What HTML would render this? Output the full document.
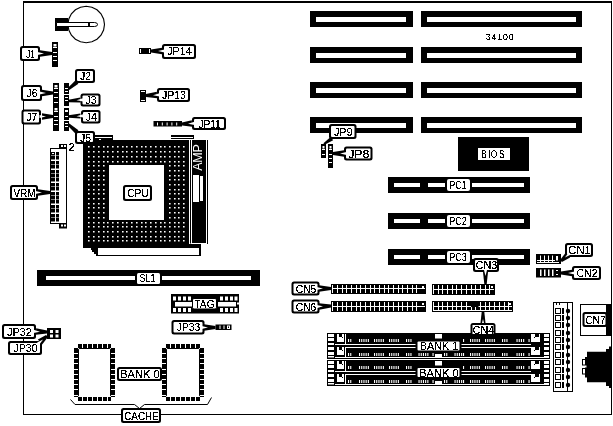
<!DOCTYPE html>
<html><head><meta charset="utf-8"><style>
html,body{margin:0;padding:0;background:#fff;width:613px;height:426px;overflow:hidden}
svg{display:block;filter:grayscale(1)}
text{font-family:"Liberation Sans",sans-serif;filter:url(#crisp)}
</style></head><body>
<svg width="613" height="426" viewBox="0 0 613 426">
<defs><filter id="crisp" x="-10%" y="-10%" width="120%" height="120%"><feComponentTransfer><feFuncA type="discrete" tableValues="0 0 1 1 1"/></feComponentTransfer></filter><filter id="crisp2" x="-10%" y="-10%" width="120%" height="120%"><feComponentTransfer><feFuncA type="discrete" tableValues="0 0 1 1 1"/></feComponentTransfer></filter></defs>
<rect x="0" y="0" width="613" height="426" fill="#fff"/>
<rect x="23" y="1" width="589" height="2" fill="#000" />
<rect x="23" y="1" width="1" height="414" fill="#000" />
<rect x="23" y="414" width="589" height="1" fill="#000" />
<rect x="611" y="1" width="1" height="414" fill="#000" />
<polygon points="104.5,24.5 103.6,30.1 101.0,35.2 97.0,39.2 91.9,41.8 86.2,42.7 80.5,41.8 75.4,39.2 71.4,35.2 68.8,30.1 67.9,24.5 68.8,18.9 71.4,13.8 75.4,9.8 80.5,7.2 86.2,6.3 91.9,7.2 97.0,9.8 101.0,13.8 103.6,18.9" fill="#fff" stroke="#000" stroke-width="1.15"/>
<rect x="55" y="18" width="13" height="13" fill="#000" />
<path d="M56.5,22.5 H94.5 Q97.5,22.5 97.5,24.5 Q97.5,26.5 94.5,26.5 H56.5 Z" fill="#fff" stroke="#000" stroke-width="1"/>
<rect x="88" y="22" width="2" height="5" fill="#000" />
<rect x="52" y="42" width="6" height="25" fill="#000" />
<rect x="53.5" y="44" width="3" height="2.5" fill="#fff" />
<rect x="53" y="47" width="4" height="1" fill="#fff" />
<rect x="53" y="52" width="4" height="1" fill="#fff" />
<rect x="53" y="56" width="4" height="1" fill="#fff" />
<rect x="53" y="60" width="4" height="1" fill="#fff" />
<rect x="20" y="46" width="20" height="15" rx="2.5" fill="#000"/>
<rect x="22" y="48" width="16" height="11" rx="1" fill="#fff"/>
<text x="30.5" y="57.64" font-size="11.5" fill="#000" text-anchor="middle" letter-spacing="0" textLength="8.6" lengthAdjust="spacingAndGlyphs" >J1</text>
<polygon points="40.0,56.8 52.0,54.9 52.0,52.1 40.0,50.2" fill="#000" stroke="none" stroke-width="1"/>
<polygon points="37.5,55.1 44.0,53.5 37.5,51.9" fill="#fff" stroke="none" stroke-width="1"/>
<rect x="53" y="83" width="6" height="23" fill="#000" />
<rect x="54.5" y="85" width="3" height="2.5" fill="#fff" />
<rect x="54" y="88" width="4" height="1" fill="#fff" />
<rect x="54" y="92" width="4" height="1" fill="#fff" />
<rect x="54" y="97" width="4" height="1" fill="#fff" />
<rect x="54" y="102" width="4" height="1" fill="#fff" />
<rect x="53" y="106" width="6" height="25" fill="#000" />
<rect x="54.5" y="108" width="3" height="2.5" fill="#fff" />
<rect x="54" y="111" width="4" height="1" fill="#fff" />
<rect x="54" y="116" width="4" height="1" fill="#fff" />
<rect x="54" y="120" width="4" height="1" fill="#fff" />
<rect x="54" y="124" width="4" height="1" fill="#fff" />
<rect x="21" y="85" width="21" height="16" rx="2.5" fill="#000"/>
<rect x="23" y="87" width="17" height="12" rx="1" fill="#fff"/>
<text x="32.0" y="97.14" font-size="11.5" fill="#000" text-anchor="middle" letter-spacing="0" textLength="11" lengthAdjust="spacingAndGlyphs" >J6</text>
<polygon points="42.0,96.3 53.0,94.4 53.0,91.6 42.0,89.7" fill="#000" stroke="none" stroke-width="1"/>
<polygon points="39.5,94.6 46.0,93.0 39.5,91.4" fill="#fff" stroke="none" stroke-width="1"/>
<rect x="21.5" y="109.5" width="19.5" height="15" rx="2.5" fill="#000"/>
<rect x="23.5" y="111.5" width="15.5" height="11" rx="1" fill="#fff"/>
<text x="31.75" y="121.14" font-size="11.5" fill="#000" text-anchor="middle" letter-spacing="0" textLength="11" lengthAdjust="spacingAndGlyphs" >J7</text>
<polygon points="42.0,119.8 53.0,117.9 53.0,115.1 42.0,113.2" fill="#000" stroke="none" stroke-width="1"/>
<polygon points="39.5,118.1 46.0,116.5 39.5,114.9" fill="#fff" stroke="none" stroke-width="1"/>
<rect x="64" y="83" width="5" height="11" fill="#000" />
<rect x="65" y="88" width="3" height="1" fill="#fff" />
<rect x="65" y="91" width="3" height="1" fill="#fff" />
<rect x="64" y="95" width="5" height="11" fill="#000" />
<rect x="65" y="97" width="3" height="1" fill="#fff" />
<rect x="65" y="100" width="3" height="1" fill="#fff" />
<rect x="64" y="108" width="5" height="12" fill="#000" />
<rect x="65" y="110" width="3" height="2" fill="#fff" />
<rect x="65" y="116" width="3" height="1" fill="#fff" />
<rect x="64" y="121" width="5" height="10" fill="#000" />
<rect x="65" y="123" width="3" height="1" fill="#fff" />
<rect x="65" y="126" width="3" height="1" fill="#fff" />
<rect x="75" y="69" width="20" height="14" rx="2.5" fill="#000"/>
<rect x="77" y="71" width="16" height="10" rx="1" fill="#fff"/>
<text x="85.5" y="80.14" font-size="11.5" fill="#000" text-anchor="middle" letter-spacing="0" textLength="11" lengthAdjust="spacingAndGlyphs" >J2</text>
<polygon points="75.60144404370558,80.30175348164249 67.73715129656668,88.07368371725954 69.26284870343332,89.92631628274046 78.39855595629442,83.69824651835751" fill="#000" stroke="none" stroke-width="1"/>
<rect x="80.5" y="93.5" width="20" height="13" rx="2.5" fill="#000"/>
<rect x="82.5" y="95.5" width="16" height="9" rx="1" fill="#fff"/>
<text x="91.0" y="104.14" font-size="11.5" fill="#000" text-anchor="middle" letter-spacing="0" textLength="11" lengthAdjust="spacingAndGlyphs" >J3</text>
<polygon points="80.29238630036565,97.5086356043878 68.40034542417551,99.80414509010615 68.59965457582449,102.19585490989385 80.70761369963435,102.4913643956122" fill="#000" stroke="none" stroke-width="1"/>
<polygon points="82.8584916278462,98.19791308717384 76.51381696702049,100.33218191941496 83.12423716337818,101.38685951355745" fill="#fff" stroke="none" stroke-width="1"/>
<rect x="81" y="110" width="19.5" height="13.5" rx="2.5" fill="#000"/>
<rect x="83" y="112" width="15.5" height="9.5" rx="1" fill="#fff"/>
<text x="91.25" y="120.89" font-size="11.5" fill="#000" text-anchor="middle" letter-spacing="0" textLength="11" lengthAdjust="spacingAndGlyphs" >J4</text>
<polygon points="80.39592363821954,113.50216731726913 68.45004334634538,115.30104031228917 68.54995665365462,117.69895968771083 80.60407636178046,118.49783268273087" fill="#000" stroke="none" stroke-width="1"/>
<polygon points="82.93122381119139,114.29731072127178 76.50346770763059,116.16652217884872 83.06444155427036,117.4945365551673" fill="#fff" stroke="none" stroke-width="1"/>
<rect x="139" y="48" width="12" height="6" fill="#000" />
<rect x="140" y="49" width="1" height="4" fill="#fff" />
<rect x="149" y="49" width="1" height="4" fill="#fff" />
<rect x="162" y="44" width="34" height="15" rx="2.5" fill="#000"/>
<rect x="164" y="46" width="30" height="11" rx="1" fill="#fff"/>
<text x="179.5" y="55.46" font-size="11" fill="#000" text-anchor="middle" letter-spacing="0" textLength="24.5" lengthAdjust="spacingAndGlyphs" >JP14</text>
<polygon points="162.0,47.7 151.0,49.6 151.0,52.4 162.0,54.3" fill="#000" stroke="none" stroke-width="1"/>
<polygon points="164.5,49.4 158.0,51.0 164.5,52.6" fill="#fff" stroke="none" stroke-width="1"/>
<rect x="140" y="90" width="6" height="12" fill="#000" />
<rect x="141" y="91" width="4" height="1" fill="#fff" />
<rect x="141" y="100" width="4" height="1" fill="#fff" />
<rect x="157" y="88" width="33" height="14" rx="2.5" fill="#000"/>
<rect x="159" y="90" width="29" height="10" rx="1" fill="#fff"/>
<text x="174.0" y="98.96" font-size="11" fill="#000" text-anchor="middle" letter-spacing="0" textLength="23.8" lengthAdjust="spacingAndGlyphs" >JP13</text>
<polygon points="156.85015471896847,91.70340381730601 145.9364292747139,94.10144404370558 146.0635707252861,96.89855595629442 157.14984528103153,98.29659618269399" fill="#000" stroke="none" stroke-width="1"/>
<polygon points="159.42476909305591,93.2881311833669 153.0041258391588,95.1816306436746 159.57007360799557,96.48483051203986" fill="#fff" stroke="none" stroke-width="1"/>
<rect x="153.5" y="121" width="28.5" height="5.5" fill="#000" />
<rect x="157.0" y="122.5" width="1" height="3" fill="#fff" />
<rect x="161.8" y="122.5" width="1" height="3" fill="#fff" />
<rect x="166.6" y="122.5" width="1" height="3" fill="#fff" />
<rect x="171.4" y="122.5" width="1" height="3" fill="#fff" />
<rect x="176.2" y="122.5" width="1" height="3" fill="#fff" />
<rect x="192" y="117" width="34" height="13" rx="2.5" fill="#000"/>
<rect x="194" y="119" width="30" height="9" rx="1" fill="#fff"/>
<text x="209.5" y="127.64" font-size="11.5" fill="#000" text-anchor="middle" letter-spacing="0" textLength="22.2" lengthAdjust="spacingAndGlyphs" >JP11</text>
<polygon points="191.83520586408517,120.20411728170312 181.93008733627855,122.60174672557102 182.06991266372145,125.39825327442898 192.16479413591483,126.79588271829688" fill="#000" stroke="none" stroke-width="1"/>
<polygon points="194.41698066008436,121.77715221543572 188.00499064448863,123.69975046777557 194.57678103430484,124.97315969984483" fill="#fff" stroke="none" stroke-width="1"/>
<rect x="50" y="148" width="17" height="76" fill="#000" />
<rect x="51" y="149" width="15" height="74" fill="#fff" />
<path d="M51,152h4v3.4h-4z M56,152h3v3.4h-3z M51,156h4v3.4h-4z M56,156h3v3.4h-3z M51,161h4v3.4h-4z M56,161h3v3.4h-3z M51,165h4v3.4h-4z M56,165h3v3.4h-3z M51,170h4v3.4h-4z M56,170h3v3.4h-3z M51,174h4v3.4h-4z M56,174h3v3.4h-3z M51,178h4v3.4h-4z M56,178h3v3.4h-3z M51,183h4v3.4h-4z M56,183h3v3.4h-3z M51,187h4v3.4h-4z M56,187h3v3.4h-3z M51,192h4v3.4h-4z M56,192h3v3.4h-3z M51,196h4v3.4h-4z M56,196h3v3.4h-3z M51,200h4v3.4h-4z M56,200h3v3.4h-3z M51,205h4v3.4h-4z M56,205h3v3.4h-3z M51,209h4v3.4h-4z M56,209h3v3.4h-3z M51,214h4v3.4h-4z M56,214h3v3.4h-3z M51,218h4v3.4h-4z M56,218h3v3.4h-3z" fill="#000"/>
<rect x="52" y="153" width="2" height="1" fill="#fff" />
<rect x="59" y="144" width="8" height="5" fill="#000" />
<rect x="61" y="145" width="2" height="2" fill="#fff" />
<rect x="64" y="145" width="2" height="2" fill="#fff" />
<text x="68.5" y="151" font-size="11" fill="#000" text-anchor="start" letter-spacing="0" >2</text>
<rect x="59" y="223" width="8" height="5.5" fill="#000" />
<rect x="61" y="224.5" width="2" height="2" fill="#fff" />
<rect x="64" y="224.5" width="2" height="2" fill="#fff" />
<rect x="10" y="185" width="28" height="15" rx="2.5" fill="#000"/>
<rect x="12" y="187" width="24" height="11" rx="1" fill="#fff"/>
<text x="24.5" y="196.64" font-size="11.5" fill="#000" text-anchor="middle" letter-spacing="0" textLength="21.8" lengthAdjust="spacingAndGlyphs" >VRM</text>
<polygon points="38.0,195.8 50.0,193.9 50.0,191.1 38.0,189.2" fill="#000" stroke="none" stroke-width="1"/>
<polygon points="35.5,194.1 42.0,192.5 35.5,190.9" fill="#fff" stroke="none" stroke-width="1"/>
<path d="M83,140 H189 V248 H83 Z M109,165 V220 H164 V165 Z" fill="#000" fill-rule="evenodd"/>
<rect x="95" y="135" width="18" height="5" fill="#000" />
<rect x="95" y="137" width="17" height="1" fill="#fff" />
<rect x="99" y="139" width="2" height="1" fill="#fff" />
<rect x="171" y="135" width="23" height="4" fill="#000" />
<rect x="171" y="137" width="22" height="1" fill="#fff" />
<path d="M88,146h1.6v1.5h-1.6zM88,151h1.6v1.5h-1.6zM88,156h1.6v1.5h-1.6zM88,161h1.6v1.5h-1.6zM88,165h1.6v1.5h-1.6zM88,170h1.6v1.5h-1.6zM88,175h1.6v1.5h-1.6zM88,179h1.6v1.5h-1.6zM88,184h1.6v1.5h-1.6zM88,189h1.6v1.5h-1.6zM88,193h1.6v1.5h-1.6zM88,198h1.6v1.5h-1.6zM88,203h1.6v1.5h-1.6zM88,207h1.6v1.5h-1.6zM88,212h1.6v1.5h-1.6zM88,217h1.6v1.5h-1.6zM88,222h1.6v1.5h-1.6zM88,226h1.6v1.5h-1.6zM88,231h1.6v1.5h-1.6zM88,236h1.6v1.5h-1.6zM88,240h1.6v1.5h-1.6zM93,146h1.6v1.5h-1.6zM93,151h1.6v1.5h-1.6zM93,156h1.6v1.5h-1.6zM93,161h1.6v1.5h-1.6zM93,165h1.6v1.5h-1.6zM93,170h1.6v1.5h-1.6zM93,175h1.6v1.5h-1.6zM93,179h1.6v1.5h-1.6zM93,184h1.6v1.5h-1.6zM93,189h1.6v1.5h-1.6zM93,193h1.6v1.5h-1.6zM93,198h1.6v1.5h-1.6zM93,203h1.6v1.5h-1.6zM93,207h1.6v1.5h-1.6zM93,212h1.6v1.5h-1.6zM93,217h1.6v1.5h-1.6zM93,222h1.6v1.5h-1.6zM93,226h1.6v1.5h-1.6zM93,231h1.6v1.5h-1.6zM93,236h1.6v1.5h-1.6zM93,240h1.6v1.5h-1.6zM98,146h1.6v1.5h-1.6zM98,151h1.6v1.5h-1.6zM98,156h1.6v1.5h-1.6zM98,161h1.6v1.5h-1.6zM98,165h1.6v1.5h-1.6zM98,170h1.6v1.5h-1.6zM98,175h1.6v1.5h-1.6zM98,179h1.6v1.5h-1.6zM98,184h1.6v1.5h-1.6zM98,189h1.6v1.5h-1.6zM98,193h1.6v1.5h-1.6zM98,198h1.6v1.5h-1.6zM98,203h1.6v1.5h-1.6zM98,207h1.6v1.5h-1.6zM98,212h1.6v1.5h-1.6zM98,217h1.6v1.5h-1.6zM98,222h1.6v1.5h-1.6zM98,226h1.6v1.5h-1.6zM98,231h1.6v1.5h-1.6zM98,236h1.6v1.5h-1.6zM98,240h1.6v1.5h-1.6zM103,146h1.6v1.5h-1.6zM103,151h1.6v1.5h-1.6zM103,156h1.6v1.5h-1.6zM103,161h1.6v1.5h-1.6zM103,165h1.6v1.5h-1.6zM103,170h1.6v1.5h-1.6zM103,175h1.6v1.5h-1.6zM103,179h1.6v1.5h-1.6zM103,184h1.6v1.5h-1.6zM103,189h1.6v1.5h-1.6zM103,193h1.6v1.5h-1.6zM103,198h1.6v1.5h-1.6zM103,203h1.6v1.5h-1.6zM103,207h1.6v1.5h-1.6zM103,212h1.6v1.5h-1.6zM103,217h1.6v1.5h-1.6zM103,222h1.6v1.5h-1.6zM103,226h1.6v1.5h-1.6zM103,231h1.6v1.5h-1.6zM103,236h1.6v1.5h-1.6zM103,240h1.6v1.5h-1.6zM107,146h1.6v1.5h-1.6zM107,151h1.6v1.5h-1.6zM107,156h1.6v1.5h-1.6zM107,161h1.6v1.5h-1.6zM107,222h1.6v1.5h-1.6zM107,226h1.6v1.5h-1.6zM107,231h1.6v1.5h-1.6zM107,236h1.6v1.5h-1.6zM107,240h1.6v1.5h-1.6zM112,146h1.6v1.5h-1.6zM112,151h1.6v1.5h-1.6zM112,156h1.6v1.5h-1.6zM112,161h1.6v1.5h-1.6zM112,222h1.6v1.5h-1.6zM112,226h1.6v1.5h-1.6zM112,231h1.6v1.5h-1.6zM112,236h1.6v1.5h-1.6zM112,240h1.6v1.5h-1.6zM117,146h1.6v1.5h-1.6zM117,151h1.6v1.5h-1.6zM117,156h1.6v1.5h-1.6zM117,161h1.6v1.5h-1.6zM117,222h1.6v1.5h-1.6zM117,226h1.6v1.5h-1.6zM117,231h1.6v1.5h-1.6zM117,236h1.6v1.5h-1.6zM117,240h1.6v1.5h-1.6zM122,146h1.6v1.5h-1.6zM122,151h1.6v1.5h-1.6zM122,156h1.6v1.5h-1.6zM122,161h1.6v1.5h-1.6zM122,222h1.6v1.5h-1.6zM122,226h1.6v1.5h-1.6zM122,231h1.6v1.5h-1.6zM122,236h1.6v1.5h-1.6zM122,240h1.6v1.5h-1.6zM126,146h1.6v1.5h-1.6zM126,151h1.6v1.5h-1.6zM126,156h1.6v1.5h-1.6zM126,161h1.6v1.5h-1.6zM126,222h1.6v1.5h-1.6zM126,226h1.6v1.5h-1.6zM126,231h1.6v1.5h-1.6zM126,236h1.6v1.5h-1.6zM126,240h1.6v1.5h-1.6zM131,146h1.6v1.5h-1.6zM131,151h1.6v1.5h-1.6zM131,156h1.6v1.5h-1.6zM131,161h1.6v1.5h-1.6zM131,222h1.6v1.5h-1.6zM131,226h1.6v1.5h-1.6zM131,231h1.6v1.5h-1.6zM131,236h1.6v1.5h-1.6zM131,240h1.6v1.5h-1.6zM136,146h1.6v1.5h-1.6zM136,151h1.6v1.5h-1.6zM136,156h1.6v1.5h-1.6zM136,161h1.6v1.5h-1.6zM136,222h1.6v1.5h-1.6zM136,226h1.6v1.5h-1.6zM136,231h1.6v1.5h-1.6zM136,236h1.6v1.5h-1.6zM136,240h1.6v1.5h-1.6zM141,146h1.6v1.5h-1.6zM141,151h1.6v1.5h-1.6zM141,156h1.6v1.5h-1.6zM141,161h1.6v1.5h-1.6zM141,222h1.6v1.5h-1.6zM141,226h1.6v1.5h-1.6zM141,231h1.6v1.5h-1.6zM141,236h1.6v1.5h-1.6zM141,240h1.6v1.5h-1.6zM145,146h1.6v1.5h-1.6zM145,151h1.6v1.5h-1.6zM145,156h1.6v1.5h-1.6zM145,161h1.6v1.5h-1.6zM145,222h1.6v1.5h-1.6zM145,226h1.6v1.5h-1.6zM145,231h1.6v1.5h-1.6zM145,236h1.6v1.5h-1.6zM145,240h1.6v1.5h-1.6zM150,146h1.6v1.5h-1.6zM150,151h1.6v1.5h-1.6zM150,156h1.6v1.5h-1.6zM150,161h1.6v1.5h-1.6zM150,222h1.6v1.5h-1.6zM150,226h1.6v1.5h-1.6zM150,231h1.6v1.5h-1.6zM150,236h1.6v1.5h-1.6zM150,240h1.6v1.5h-1.6zM155,146h1.6v1.5h-1.6zM155,151h1.6v1.5h-1.6zM155,156h1.6v1.5h-1.6zM155,161h1.6v1.5h-1.6zM155,222h1.6v1.5h-1.6zM155,226h1.6v1.5h-1.6zM155,231h1.6v1.5h-1.6zM155,236h1.6v1.5h-1.6zM155,240h1.6v1.5h-1.6zM160,146h1.6v1.5h-1.6zM160,151h1.6v1.5h-1.6zM160,156h1.6v1.5h-1.6zM160,161h1.6v1.5h-1.6zM160,222h1.6v1.5h-1.6zM160,226h1.6v1.5h-1.6zM160,231h1.6v1.5h-1.6zM160,236h1.6v1.5h-1.6zM160,240h1.6v1.5h-1.6zM164,146h1.6v1.5h-1.6zM164,151h1.6v1.5h-1.6zM164,156h1.6v1.5h-1.6zM164,161h1.6v1.5h-1.6zM164,222h1.6v1.5h-1.6zM164,226h1.6v1.5h-1.6zM164,231h1.6v1.5h-1.6zM164,236h1.6v1.5h-1.6zM164,240h1.6v1.5h-1.6zM169,146h1.6v1.5h-1.6zM169,151h1.6v1.5h-1.6zM169,156h1.6v1.5h-1.6zM169,161h1.6v1.5h-1.6zM169,165h1.6v1.5h-1.6zM169,170h1.6v1.5h-1.6zM169,175h1.6v1.5h-1.6zM169,179h1.6v1.5h-1.6zM169,184h1.6v1.5h-1.6zM169,189h1.6v1.5h-1.6zM169,193h1.6v1.5h-1.6zM169,198h1.6v1.5h-1.6zM169,203h1.6v1.5h-1.6zM169,207h1.6v1.5h-1.6zM169,212h1.6v1.5h-1.6zM169,217h1.6v1.5h-1.6zM169,222h1.6v1.5h-1.6zM169,226h1.6v1.5h-1.6zM169,231h1.6v1.5h-1.6zM169,236h1.6v1.5h-1.6zM169,240h1.6v1.5h-1.6zM174,146h1.6v1.5h-1.6zM174,151h1.6v1.5h-1.6zM174,156h1.6v1.5h-1.6zM174,161h1.6v1.5h-1.6zM174,165h1.6v1.5h-1.6zM174,170h1.6v1.5h-1.6zM174,175h1.6v1.5h-1.6zM174,179h1.6v1.5h-1.6zM174,184h1.6v1.5h-1.6zM174,189h1.6v1.5h-1.6zM174,193h1.6v1.5h-1.6zM174,198h1.6v1.5h-1.6zM174,203h1.6v1.5h-1.6zM174,207h1.6v1.5h-1.6zM174,212h1.6v1.5h-1.6zM174,217h1.6v1.5h-1.6zM174,222h1.6v1.5h-1.6zM174,226h1.6v1.5h-1.6zM174,231h1.6v1.5h-1.6zM174,236h1.6v1.5h-1.6zM174,240h1.6v1.5h-1.6zM178,146h1.6v1.5h-1.6zM178,151h1.6v1.5h-1.6zM178,156h1.6v1.5h-1.6zM178,161h1.6v1.5h-1.6zM178,165h1.6v1.5h-1.6zM178,170h1.6v1.5h-1.6zM178,175h1.6v1.5h-1.6zM178,179h1.6v1.5h-1.6zM178,184h1.6v1.5h-1.6zM178,189h1.6v1.5h-1.6zM178,193h1.6v1.5h-1.6zM178,198h1.6v1.5h-1.6zM178,203h1.6v1.5h-1.6zM178,207h1.6v1.5h-1.6zM178,212h1.6v1.5h-1.6zM178,217h1.6v1.5h-1.6zM178,222h1.6v1.5h-1.6zM178,226h1.6v1.5h-1.6zM178,231h1.6v1.5h-1.6zM178,236h1.6v1.5h-1.6zM178,240h1.6v1.5h-1.6zM183,146h1.6v1.5h-1.6zM183,151h1.6v1.5h-1.6zM183,156h1.6v1.5h-1.6zM183,161h1.6v1.5h-1.6zM183,165h1.6v1.5h-1.6zM183,170h1.6v1.5h-1.6zM183,175h1.6v1.5h-1.6zM183,179h1.6v1.5h-1.6zM183,184h1.6v1.5h-1.6zM183,189h1.6v1.5h-1.6zM183,193h1.6v1.5h-1.6zM183,198h1.6v1.5h-1.6zM183,203h1.6v1.5h-1.6zM183,207h1.6v1.5h-1.6zM183,212h1.6v1.5h-1.6zM183,217h1.6v1.5h-1.6zM183,222h1.6v1.5h-1.6zM183,226h1.6v1.5h-1.6zM183,231h1.6v1.5h-1.6zM183,236h1.6v1.5h-1.6zM183,240h1.6v1.5h-1.6z" fill="#fff"/>
<rect x="190" y="140" width="1" height="103.5" fill="#000" />
<rect x="192" y="140" width="14" height="103" fill="#000" />
<rect x="207" y="140" width="1" height="104" fill="#000" />
<text x="0" y="0" font-size="12.5" fill="#fff" text-anchor="middle" textLength="26.5" lengthAdjust="spacing" style="filter:none" transform="translate(202.3,157.5) rotate(-90)">AMP</text>
<rect x="193" y="175" width="6" height="27" fill="#fff" />
<rect x="200" y="176" width="3" height="25" fill="#fff" />
<polygon points="91,247 201,247 201,256 96,256 96,254 94,254 94,252 92,252 92,250 91,250" fill="#000" stroke="none" stroke-width="1"/>
<rect x="189" y="244" width="12" height="4" fill="#000" />
<rect x="98" y="248" width="101" height="7" fill="#fff" />
<rect x="123" y="185" width="29" height="16" rx="2.5" fill="#000"/>
<rect x="125" y="187" width="25" height="12" rx="1" fill="#fff"/>
<text x="138.0" y="197.14" font-size="11.5" fill="#000" text-anchor="middle" letter-spacing="0" textLength="21.7" lengthAdjust="spacingAndGlyphs" >CPU</text>
<rect x="75" y="131" width="20" height="13" rx="2.5" fill="#000"/>
<rect x="77" y="133" width="16" height="9" rx="1" fill="#fff"/>
<text x="85.5" y="141.64" font-size="11.5" fill="#000" text-anchor="middle" letter-spacing="0" textLength="11" lengthAdjust="spacingAndGlyphs" >J5</text>
<polygon points="78.45556760159106,130.3503567181968 69.29394596450422,123.6001945735619 67.70605403549578,125.3998054264381 75.54443239840894,133.6496432818032" fill="#000" stroke="none" stroke-width="1"/>
<rect x="37" y="270" width="223" height="16" fill="#000" />
<rect x="46" y="276" width="89" height="4" fill="#fff" />
<rect x="162" y="276" width="89" height="4" fill="#fff" />
<rect x="137" y="273" width="23" height="11" rx="1.5" fill="#fff"/>
<text x="147.5" y="282" font-size="11.5" fill="#000" text-anchor="middle" letter-spacing="0" textLength="16" lengthAdjust="spacingAndGlyphs" >SL1</text>
<rect x="171" y="294" width="68" height="19.5" fill="#000" />
<rect x="173" y="296.5" width="3" height="4" fill="#fff" />
<rect x="173" y="308" width="3" height="4" fill="#fff" />
<rect x="178" y="296.5" width="3" height="4" fill="#fff" />
<rect x="178" y="308" width="3" height="4" fill="#fff" />
<rect x="183" y="296.5" width="3" height="4" fill="#fff" />
<rect x="183" y="308" width="3" height="4" fill="#fff" />
<rect x="188" y="296.5" width="3" height="4" fill="#fff" />
<rect x="188" y="308" width="3" height="4" fill="#fff" />
<rect x="220" y="296.5" width="3" height="4" fill="#fff" />
<rect x="220" y="308" width="3" height="4" fill="#fff" />
<rect x="225" y="296.5" width="3" height="4" fill="#fff" />
<rect x="225" y="308" width="3" height="4" fill="#fff" />
<rect x="230" y="296.5" width="3" height="4" fill="#fff" />
<rect x="230" y="308" width="3" height="4" fill="#fff" />
<rect x="234.5" y="296.5" width="3" height="4" fill="#fff" />
<rect x="234.5" y="308" width="3" height="4" fill="#fff" />
<rect x="175" y="302" width="17" height="4.5" fill="#fff" />
<rect x="218" y="302" width="18" height="4.5" fill="#fff" />
<rect x="237" y="302.5" width="2" height="2" fill="#fff" />
<rect x="192.5" y="298.5" width="24" height="10.5" rx="1.5" fill="#fff" stroke="#000" stroke-width="1"/>
<text x="204.5" y="308.2" font-size="11.5" fill="#000" text-anchor="middle" letter-spacing="0" textLength="20.2" lengthAdjust="spacingAndGlyphs" >TAG</text>
<rect x="171.5" y="320" width="33" height="14.5" rx="2.5" fill="#000"/>
<rect x="173.5" y="322" width="29" height="10.5" rx="1" fill="#fff"/>
<text x="188.5" y="331.39" font-size="11.5" fill="#000" text-anchor="middle" letter-spacing="0" textLength="23.5" lengthAdjust="spacingAndGlyphs" >JP33</text>
<rect x="215.5" y="324.5" width="16" height="5.5" fill="#000" />
<rect x="219.5" y="325.5" width="1" height="3.5" fill="#fff" />
<rect x="223.5" y="325.5" width="1" height="3.5" fill="#fff" />
<rect x="227" y="325.5" width="3" height="3.5" fill="#fff" />
<rect x="228" y="326.5" width="1" height="1.5" fill="#000" />
<polygon points="204.0,330.8 215.5,328.9 215.5,326.1 204.0,324.2" fill="#000" stroke="none" stroke-width="1"/>
<polygon points="201.5,329.1 208.0,327.5 201.5,325.9" fill="#fff" stroke="none" stroke-width="1"/>
<rect x="47" y="328" width="14" height="11" fill="#000" />
<rect x="50" y="330" width="3" height="3" fill="#fff" />
<rect x="55.5" y="330" width="3" height="3" fill="#fff" />
<rect x="50" y="334.5" width="3" height="3" fill="#fff" />
<rect x="55.5" y="334.5" width="3" height="3" fill="#fff" />
<rect x="2" y="324" width="34" height="15" rx="2.5" fill="#000"/>
<rect x="4" y="326" width="30" height="11" rx="1" fill="#fff"/>
<text x="19.5" y="335.64" font-size="11.5" fill="#000" text-anchor="middle" letter-spacing="0" textLength="24.8" lengthAdjust="spacingAndGlyphs" >JP32</text>
<polygon points="35.850154718968454,334.796596182694 46.93642927471389,333.39855595629444 47.06357072528611,330.60144404370556 36.149845281031546,328.203403817306" fill="#000" stroke="none" stroke-width="1"/>
<polygon points="33.42992639200441,332.9848305120398 39.9958741608412,331.6816306436746 33.57523090694409,329.7881311833669" fill="#fff" stroke="none" stroke-width="1"/>
<rect x="8" y="341" width="34" height="14" rx="2.5" fill="#000"/>
<rect x="10" y="343" width="30" height="10" rx="1" fill="#fff"/>
<text x="25.5" y="352.14" font-size="11.5" fill="#000" text-anchor="middle" letter-spacing="0" textLength="24.2" lengthAdjust="spacingAndGlyphs" >JP30</text>
<polygon points="42.147611532404696,344.5055467878055 47.911107922838355,337.0629592433114 46.088892077161645,334.9370407566886 37.852388467595304,339.4944532121945" fill="#000" stroke="none" stroke-width="1"/>
<polygon points="39.14312469161631,344.8417889974244 43.037026409461184,339.3968345061761 37.0605922965572,342.41216786985547" fill="#fff" stroke="none" stroke-width="1"/>
<rect x="74" y="344" width="41" height="57" fill="#000" />
<rect x="79" y="349" width="31" height="48" fill="#fff" />
<path d="M82,344h1v4h-1z M82,397h1v4h-1z M87,344h1v4h-1z M87,397h1v4h-1z M92,344h1v4h-1z M92,397h1v4h-1z M97,344h1v4h-1z M97,397h1v4h-1z M102,344h1v4h-1z M102,397h1v4h-1z M107,344h1v4h-1z M107,397h1v4h-1z M74,353h4v1h-4z M111,353h4v1h-4z M74,358h4v1h-4z M111,358h4v1h-4z M74,363h4v1h-4z M111,363h4v1h-4z M74,369h4v1h-4z M111,369h4v1h-4z M74,374h4v1h-4z M111,374h4v1h-4z M74,379h4v1h-4z M111,379h4v1h-4z M74,384h4v1h-4z M111,384h4v1h-4z M74,389h4v1h-4z M111,389h4v1h-4z M74,395h4v1h-4z M111,395h4v1h-4z" fill="#fff"/>
<rect x="74" y="344" width="4" height="4" fill="#fff" />
<rect x="111" y="344" width="4" height="4" fill="#fff" />
<rect x="74" y="397" width="4" height="4" fill="#fff" />
<rect x="111" y="397" width="4" height="4" fill="#fff" />
<polygon points="78,348 79.5,348 78,349.5" fill="#fff" stroke="none" stroke-width="1"/>
<polygon points="111,348 109.5,348 111,349.5" fill="#fff" stroke="none" stroke-width="1"/>
<polygon points="78,397 79.5,397 78,395.5" fill="#fff" stroke="none" stroke-width="1"/>
<polygon points="111,397 109.5,397 111,395.5" fill="#fff" stroke="none" stroke-width="1"/>
<rect x="162" y="344" width="42" height="57" fill="#000" />
<rect x="167" y="349" width="32" height="48" fill="#fff" />
<path d="M170,344h1v4h-1z M170,397h1v4h-1z M175,344h1v4h-1z M175,397h1v4h-1z M180,344h1v4h-1z M180,397h1v4h-1z M185,344h1v4h-1z M185,397h1v4h-1z M190,344h1v4h-1z M190,397h1v4h-1z M195,344h1v4h-1z M195,397h1v4h-1z M162,353h4v1h-4z M200,353h4v1h-4z M162,358h4v1h-4z M200,358h4v1h-4z M162,363h4v1h-4z M200,363h4v1h-4z M162,369h4v1h-4z M200,369h4v1h-4z M162,374h4v1h-4z M200,374h4v1h-4z M162,379h4v1h-4z M200,379h4v1h-4z M162,384h4v1h-4z M200,384h4v1h-4z M162,389h4v1h-4z M200,389h4v1h-4z M162,395h4v1h-4z M200,395h4v1h-4z" fill="#fff"/>
<rect x="162" y="344" width="4" height="4" fill="#fff" />
<rect x="200" y="344" width="4" height="4" fill="#fff" />
<rect x="162" y="397" width="4" height="4" fill="#fff" />
<rect x="200" y="397" width="4" height="4" fill="#fff" />
<polygon points="166,348 167.5,348 166,349.5" fill="#fff" stroke="none" stroke-width="1"/>
<polygon points="200,348 198.5,348 200,349.5" fill="#fff" stroke="none" stroke-width="1"/>
<polygon points="166,397 167.5,397 166,395.5" fill="#fff" stroke="none" stroke-width="1"/>
<polygon points="200,397 198.5,397 200,395.5" fill="#fff" stroke="none" stroke-width="1"/>
<rect x="117" y="367" width="45" height="14" rx="2.5" fill="#000"/>
<rect x="119" y="369" width="41" height="10" rx="1" fill="#fff"/>
<text x="140.0" y="378.14" font-size="11.5" fill="#000" text-anchor="middle" letter-spacing="0" textLength="39.7" lengthAdjust="spacingAndGlyphs" >BANK 0</text>
<polyline points="70.5,399.5 75,404.5 134.5,404.5 139.5,408.5 144.5,404.5 207.5,404.5 211.5,397.5" fill="none" stroke="#000" stroke-width="1"/>
<rect x="121" y="408" width="40" height="15" rx="2.5" fill="#000"/>
<rect x="123" y="410" width="36" height="11" rx="1" fill="#fff"/>
<text x="141.5" y="419.64" font-size="11.5" fill="#000" text-anchor="middle" letter-spacing="0" textLength="34.7" lengthAdjust="spacingAndGlyphs" >CACHE</text>
<rect x="310" y="11" width="103" height="16" fill="#000" />
<rect x="316" y="17" width="90" height="5" fill="#fff" />
<rect x="421" y="11" width="161" height="16" fill="#000" />
<rect x="427" y="17" width="149" height="5" fill="#fff" />
<rect x="310" y="47" width="103" height="16" fill="#000" />
<rect x="316" y="53" width="90" height="5" fill="#fff" />
<rect x="421" y="47" width="161" height="16" fill="#000" />
<rect x="427" y="53" width="149" height="5" fill="#fff" />
<rect x="310" y="82" width="103" height="16" fill="#000" />
<rect x="316" y="88" width="90" height="5" fill="#fff" />
<rect x="421" y="82" width="161" height="16" fill="#000" />
<rect x="427" y="88" width="149" height="5" fill="#fff" />
<rect x="310" y="117" width="103" height="16" fill="#000" />
<rect x="316" y="123" width="90" height="5" fill="#fff" />
<rect x="421" y="117" width="161" height="16" fill="#000" />
<rect x="427" y="123" width="149" height="5" fill="#fff" />
<text x="485.5" y="39.8" font-size="9.5" fill="#000" text-anchor="start" letter-spacing="0.45" >34100</text>
<rect x="321" y="144" width="5" height="14" fill="#000" />
<rect x="322.5" y="146" width="2" height="2.5" fill="#fff" />
<rect x="322" y="149" width="3" height="1" fill="#fff" />
<rect x="322" y="154" width="3" height="1" fill="#fff" />
<rect x="328" y="144" width="5" height="24" fill="#000" />
<rect x="329.5" y="146" width="2" height="2.5" fill="#fff" />
<rect x="329" y="149" width="3" height="1" fill="#fff" />
<rect x="329" y="154" width="3" height="1" fill="#fff" />
<rect x="329" y="158" width="3" height="1" fill="#fff" />
<rect x="329" y="162" width="3" height="1" fill="#fff" />
<rect x="329" y="124" width="27.5" height="15" rx="2.5" fill="#000"/>
<rect x="331" y="126" width="23.5" height="11" rx="1" fill="#fff"/>
<text x="343.25" y="135.64" font-size="11.5" fill="#000" text-anchor="middle" letter-spacing="0" textLength="18.7" lengthAdjust="spacingAndGlyphs" >JP9</text>
<polygon points="330.86694235422584,136.85191615160127 323.43347117711295,143.17595807580062 324.56652882288705,144.82404192419938 333.13305764577416,140.14808384839873" fill="#000" stroke="none" stroke-width="1"/>
<rect x="344" y="146.5" width="28.5" height="14" rx="2.5" fill="#000"/>
<rect x="346" y="148.5" width="24.5" height="10" rx="1" fill="#fff"/>
<text x="358.75" y="157.64" font-size="11.5" fill="#000" text-anchor="middle" letter-spacing="0" textLength="21.2" lengthAdjust="spacingAndGlyphs" >JP8</text>
<polygon points="344.0,150.2 333.0,152.1 333.0,154.9 344.0,156.8" fill="#000" stroke="none" stroke-width="1"/>
<polygon points="346.5,151.9 340.0,153.5 346.5,155.1" fill="#fff" stroke="none" stroke-width="1"/>
<rect x="458" y="137" width="71" height="34" fill="#000" />
<rect x="478" y="148" width="32" height="12" fill="#fff" />
<text x="0" y="0" font-size="11.5" fill="#000" transform="translate(481.5,157.8) scale(0.68,1)">B</text>
<text x="0" y="0" font-size="11.5" fill="#000" transform="translate(488.5,157.8) scale(0.68,1)">I</text>
<text x="0" y="0" font-size="11.5" fill="#000" transform="translate(491,157.8) scale(0.68,1)">O</text>
<text x="0" y="0" font-size="11.5" fill="#000" transform="translate(499.3,157.8) scale(0.68,1)">S</text>
<rect x="388" y="177" width="142" height="16" fill="#000" />
<rect x="394" y="183" width="26" height="4" fill="#fff" />
<rect x="428" y="183" width="17" height="4" fill="#fff" />
<rect x="472" y="183" width="52" height="4" fill="#fff" />
<rect x="447" y="179" width="23" height="12" rx="2" fill="#fff"/>
<text x="458" y="188.8" font-size="11" fill="#000" text-anchor="middle" letter-spacing="0" textLength="17.7" lengthAdjust="spacingAndGlyphs" >PC1</text>
<rect x="388" y="213" width="142" height="16" fill="#000" />
<rect x="394" y="219" width="26" height="4" fill="#fff" />
<rect x="428" y="219" width="17" height="4" fill="#fff" />
<rect x="472" y="219" width="52" height="4" fill="#fff" />
<rect x="447" y="215" width="23" height="12" rx="2" fill="#fff"/>
<text x="458" y="224.8" font-size="11" fill="#000" text-anchor="middle" letter-spacing="0" textLength="17.7" lengthAdjust="spacingAndGlyphs" >PC2</text>
<rect x="388" y="249" width="142" height="16" fill="#000" />
<rect x="394" y="255" width="26" height="4" fill="#fff" />
<rect x="428" y="255" width="17" height="4" fill="#fff" />
<rect x="472" y="255" width="52" height="4" fill="#fff" />
<rect x="447" y="251" width="23" height="12" rx="2" fill="#fff"/>
<text x="458" y="260.8" font-size="11" fill="#000" text-anchor="middle" letter-spacing="0" textLength="17.7" lengthAdjust="spacingAndGlyphs" >PC3</text>
<rect x="536" y="254" width="25" height="10" fill="#000" />
<rect x="537" y="260" width="20" height="1" fill="#fff" />
<rect x="537" y="262" width="22" height="1" fill="#fff" />
<rect x="540" y="255.5" width="1" height="7" fill="#fff" />
<rect x="544" y="255.5" width="1" height="7" fill="#fff" />
<rect x="548" y="255.5" width="1" height="7" fill="#fff" />
<rect x="552" y="255.5" width="1" height="7" fill="#fff" />
<rect x="555.5" y="255.5" width="3" height="5.5" fill="#fff" stroke="#000" stroke-width="1"/>
<rect x="536" y="268" width="25" height="9.5" fill="#000" />
<rect x="540" y="269.5" width="1.5" height="6.5" fill="#fff" />
<rect x="544" y="269.5" width="1.5" height="6.5" fill="#fff" />
<rect x="548" y="269.5" width="1.5" height="6.5" fill="#fff" />
<rect x="552" y="269.5" width="1.5" height="6.5" fill="#fff" />
<rect x="555.5" y="269.5" width="3" height="6" fill="#fff" stroke="#000" stroke-width="1"/>
<rect x="556" y="271" width="2" height="3" fill="#000" />
<rect x="565" y="243" width="28" height="14" rx="2.5" fill="#000"/>
<rect x="567" y="245" width="24" height="10" rx="1" fill="#fff"/>
<text x="579.5" y="254.14" font-size="11.5" fill="#000" text-anchor="middle" letter-spacing="0" textLength="22.3" lengthAdjust="spacingAndGlyphs" >CN1</text>
<polygon points="565.8523884675953,252.49445321219451 560.0888920771616,259.9370407566886 561.9111079228384,262.0629592433114 570.1476115324047,257.5055467878055" fill="#000" stroke="none" stroke-width="1"/>
<polygon points="568.8568753083837,252.1582110025756 564.9629735905388,257.6031654938239 570.9394077034428,254.58783213014456" fill="#fff" stroke="none" stroke-width="1"/>
<rect x="572" y="266" width="29" height="14" rx="2.5" fill="#000"/>
<rect x="574" y="268" width="25" height="10" rx="1" fill="#fff"/>
<text x="587.0" y="277.14" font-size="11.5" fill="#000" text-anchor="middle" letter-spacing="0" textLength="21" lengthAdjust="spacingAndGlyphs" >CN2</text>
<polygon points="572.0,269.7 561.0,271.6 561.0,274.4 572.0,276.3" fill="#000" stroke="none" stroke-width="1"/>
<polygon points="574.5,271.4 568.0,273.0 574.5,274.6" fill="#fff" stroke="none" stroke-width="1"/>
<rect x="331" y="284" width="95" height="10" fill="#000" />
<path d="M332,288h93v1h-93z M332,285h1v8h-1z M337,285h1v8h-1z M342,285h1v8h-1z M346,285h1v8h-1z M351,285h1v8h-1z M356,285h1v8h-1z M360,285h1v8h-1z M365,285h1v8h-1z M370,285h1v8h-1z M374,285h1v8h-1z M379,285h1v8h-1z M384,285h1v8h-1z M388,285h1v8h-1z M393,285h1v8h-1z M398,285h1v8h-1z M402,285h1v8h-1z M407,285h1v8h-1z M412,285h1v8h-1z M416,285h1v8h-1z M422,286h2v2h-2z" fill="#fff"/>
<rect x="331" y="301" width="95" height="11" fill="#000" />
<path d="M332,306h93v1h-93z M332,302h1v9h-1z M337,302h1v9h-1z M342,302h1v9h-1z M346,302h1v9h-1z M351,302h1v9h-1z M356,302h1v9h-1z M360,302h1v9h-1z M365,302h1v9h-1z M370,302h1v9h-1z M374,302h1v9h-1z M379,302h1v9h-1z M384,302h1v9h-1z M388,302h1v9h-1z M393,302h1v9h-1z M398,302h1v9h-1z M402,302h1v9h-1z M407,302h1v9h-1z M412,302h1v9h-1z M416,302h1v9h-1z M422,303h2v2h-2z" fill="#fff"/>
<rect x="432" y="284" width="63" height="11" fill="#000" />
<path d="M433,289h61v1h-61z M433,285h1v9h-1z M438,285h1v9h-1z M442,285h1v9h-1z M447,285h1v9h-1z M452,285h1v9h-1z M456,285h1v9h-1z M461,285h1v9h-1z M466,285h1v9h-1z M471,285h1v9h-1z M475,285h1v9h-1z M480,285h1v9h-1z M485,285h1v9h-1z M489,285h1v9h-1z M491,286h2v2h-2z" fill="#fff"/>
<rect x="432" y="301" width="81" height="11" fill="#000" />
<path d="M433,306h79v1h-79z M433,310h79v1h-79z M433,302h1v8h-1z M438,302h1v8h-1z M442,302h1v8h-1z M447,302h1v8h-1z M452,302h1v8h-1z M456,302h1v8h-1z M461,302h1v8h-1z M466,302h1v8h-1z M471,302h1v8h-1z M475,302h1v8h-1z M480,302h1v8h-1z M485,302h1v8h-1z M489,302h1v8h-1z M494,302h1v8h-1z M499,302h1v8h-1z M504,302h1v8h-1z M508,302h1v8h-1z M509,303h2v2h-2z" fill="#fff"/>
<rect x="471" y="302" width="7.5" height="5" fill="#000" />
<rect x="291.5" y="281.5" width="28" height="14" rx="2.5" fill="#000"/>
<rect x="293.5" y="283.5" width="24" height="10" rx="1" fill="#fff"/>
<text x="306.0" y="292.64" font-size="11.5" fill="#000" text-anchor="middle" letter-spacing="0" textLength="20.4" lengthAdjust="spacingAndGlyphs" >CN5</text>
<polygon points="319.0,291.8 331.0,289.9 331.0,287.1 319.0,285.2" fill="#000" stroke="none" stroke-width="1"/>
<polygon points="316.5,290.1 323.0,288.5 316.5,286.9" fill="#fff" stroke="none" stroke-width="1"/>
<rect x="291.5" y="299.5" width="28" height="14" rx="2.5" fill="#000"/>
<rect x="293.5" y="301.5" width="24" height="10" rx="1" fill="#fff"/>
<text x="306.0" y="310.64" font-size="11.5" fill="#000" text-anchor="middle" letter-spacing="0" textLength="20.4" lengthAdjust="spacingAndGlyphs" >CN6</text>
<polygon points="319.1373807975502,309.79713914120475 331.05828276259706,307.3987863023293 330.94171723740294,304.6012136976707 318.8626192024498,303.20286085879525" fill="#000" stroke="none" stroke-width="1"/>
<polygon points="316.5687761888086,308.20268927872826 322.9965322923694,306.3334778211513 316.43555844572967,305.0054634448327" fill="#fff" stroke="none" stroke-width="1"/>
<rect x="473" y="258" width="26" height="14" rx="2.5" fill="#000"/>
<rect x="475" y="260" width="22" height="10" rx="1" fill="#fff"/>
<text x="486.5" y="269.14" font-size="11.5" fill="#000" text-anchor="middle" letter-spacing="0" textLength="21.7" lengthAdjust="spacingAndGlyphs" >CN3</text>
<polygon points="483.0,272.0 484.3,284.0 486.7,284.0 488.0,272.0" fill="#000" stroke="none" stroke-width="1"/>
<polygon points="483.9,269.5 485.5,276.0 487.1,269.5" fill="#fff" stroke="none" stroke-width="1"/>
<polygon points="485.5,323.0 484.2,311.0 481.8,311.0 480.5,323.0" fill="#000" stroke="none" stroke-width="1"/>
<polygon points="484.6,325.5 483.0,319.0 481.4,325.5" fill="#fff" stroke="none" stroke-width="1"/>
<rect x="327" y="333" width="223" height="26" fill="#000" />
<rect x="328" y="334" width="6" height="3" fill="#fff" />
<rect x="544" y="334" width="5" height="3" fill="#fff" />
<rect x="328" y="338" width="6" height="3" fill="#fff" />
<rect x="544" y="338" width="5" height="3" fill="#fff" />
<rect x="328" y="343" width="6" height="2" fill="#fff" />
<rect x="544" y="343" width="5" height="2" fill="#fff" />
<rect x="328" y="347" width="6" height="3" fill="#fff" />
<rect x="544" y="347" width="5" height="3" fill="#fff" />
<rect x="328" y="352" width="6" height="3" fill="#fff" />
<rect x="544" y="352" width="5" height="3" fill="#fff" />
<rect x="328" y="356" width="6" height="1.5" fill="#fff" />
<rect x="544" y="356" width="5" height="1.5" fill="#fff" />
<rect x="335" y="344" width="196" height="1" fill="#fff" />
<rect x="345" y="347" width="186" height="1" fill="#fff" />
<rect x="345" y="347" width="1" height="10" fill="#fff" />
<rect x="335" y="357" width="214" height="1" fill="#fff" />
<rect x="337" y="334" width="7" height="8" fill="#fff" />
<rect x="339" y="334" width="3" height="3" fill="#000" />
<rect x="342" y="337" width="1" height="1" fill="#000" />
<rect x="345" y="334" width="1" height="10" fill="#fff" />
<rect x="531" y="334" width="9" height="8" fill="#fff" />
<rect x="535" y="334" width="4" height="3" fill="#000" />
<rect x="534" y="337" width="1" height="1" fill="#000" />
<rect x="337" y="347" width="7" height="8" fill="#fff" />
<rect x="339" y="347" width="3" height="3" fill="#000" />
<rect x="342" y="350" width="1" height="1" fill="#000" />
<rect x="345" y="347" width="1" height="10" fill="#fff" />
<rect x="531" y="347" width="9" height="8" fill="#fff" />
<rect x="535" y="347" width="4" height="3" fill="#000" />
<rect x="534" y="350" width="1" height="1" fill="#000" />
<path d="M348.00,339h1.1v3h-1.1zM350.20,339h1.1v3h-1.1zM359.00,339h1.1v3h-1.1zM361.20,339h1.1v3h-1.1zM363.40,339h1.1v3h-1.1zM365.60,339h1.1v3h-1.1zM367.80,339h1.1v3h-1.1zM374.00,339h1.1v3h-1.1zM376.20,339h1.1v3h-1.1zM378.40,339h1.1v3h-1.1zM380.60,339h1.1v3h-1.1zM382.80,339h1.1v3h-1.1zM389.00,339h1.1v3h-1.1zM391.20,339h1.1v3h-1.1zM393.40,339h1.1v3h-1.1zM395.60,339h1.1v3h-1.1zM397.80,339h1.1v3h-1.1zM406.00,339h1.1v3h-1.1zM408.20,339h1.1v3h-1.1zM410.40,339h1.1v3h-1.1zM463.00,339h1.1v3h-1.1zM470.00,339h1.1v3h-1.1zM472.20,339h1.1v3h-1.1zM474.40,339h1.1v3h-1.1zM476.60,339h1.1v3h-1.1zM478.80,339h1.1v3h-1.1zM485.00,339h1.1v3h-1.1zM487.20,339h1.1v3h-1.1zM489.40,339h1.1v3h-1.1zM491.60,339h1.1v3h-1.1zM493.80,339h1.1v3h-1.1zM502.00,339h1.1v3h-1.1zM504.20,339h1.1v3h-1.1zM506.40,339h1.1v3h-1.1zM516.50,339h1.1v3h-1.1zM518.70,339h1.1v3h-1.1zM520.90,339h1.1v3h-1.1zM523.10,339h1.1v3h-1.1zM528.50,339h1.1v3h-1.1zM348.00,353h1.1v3h-1.1zM350.20,353h1.1v3h-1.1zM359.00,353h1.1v3h-1.1zM361.20,353h1.1v3h-1.1zM363.40,353h1.1v3h-1.1zM365.60,353h1.1v3h-1.1zM367.80,353h1.1v3h-1.1zM374.00,353h1.1v3h-1.1zM376.20,353h1.1v3h-1.1zM378.40,353h1.1v3h-1.1zM380.60,353h1.1v3h-1.1zM382.80,353h1.1v3h-1.1zM389.00,353h1.1v3h-1.1zM391.20,353h1.1v3h-1.1zM393.40,353h1.1v3h-1.1zM395.60,353h1.1v3h-1.1zM397.80,353h1.1v3h-1.1zM406.00,353h1.1v3h-1.1zM408.20,353h1.1v3h-1.1zM410.40,353h1.1v3h-1.1zM463.00,353h1.1v3h-1.1zM470.00,353h1.1v3h-1.1zM472.20,353h1.1v3h-1.1zM474.40,353h1.1v3h-1.1zM476.60,353h1.1v3h-1.1zM478.80,353h1.1v3h-1.1zM485.00,353h1.1v3h-1.1zM487.20,353h1.1v3h-1.1zM489.40,353h1.1v3h-1.1zM491.60,353h1.1v3h-1.1zM493.80,353h1.1v3h-1.1zM502.00,353h1.1v3h-1.1zM504.20,353h1.1v3h-1.1zM506.40,353h1.1v3h-1.1zM516.50,353h1.1v3h-1.1zM518.70,353h1.1v3h-1.1zM520.90,353h1.1v3h-1.1zM523.10,353h1.1v3h-1.1zM528.50,353h1.1v3h-1.1zM418.50,353h1.1v3h-1.1zM420.70,353h1.1v3h-1.1zM422.90,353h1.1v3h-1.1zM425.10,353h1.1v3h-1.1zM427.30,353h1.1v3h-1.1zM432.50,353h1.1v3h-1.1zM444.00,353h1.1v3h-1.1zM446.20,353h1.1v3h-1.1zM454.50,353h1.1v3h-1.1zM456.70,353h1.1v3h-1.1zM458.90,353h1.1v3h-1.1zM461.10,353h1.1v3h-1.1z" fill="#fff"/>
<rect x="327" y="359" width="223" height="1" fill="#fff" />
<rect x="327" y="360" width="223" height="26" fill="#000" />
<rect x="328" y="361" width="6" height="3" fill="#fff" />
<rect x="544" y="361" width="5" height="3" fill="#fff" />
<rect x="328" y="365" width="6" height="3" fill="#fff" />
<rect x="544" y="365" width="5" height="3" fill="#fff" />
<rect x="328" y="370" width="6" height="2" fill="#fff" />
<rect x="544" y="370" width="5" height="2" fill="#fff" />
<rect x="328" y="374" width="6" height="3" fill="#fff" />
<rect x="544" y="374" width="5" height="3" fill="#fff" />
<rect x="328" y="379" width="6" height="3" fill="#fff" />
<rect x="544" y="379" width="5" height="3" fill="#fff" />
<rect x="328" y="383" width="6" height="1.5" fill="#fff" />
<rect x="544" y="383" width="5" height="1.5" fill="#fff" />
<rect x="335" y="371" width="196" height="1" fill="#fff" />
<rect x="345" y="374" width="186" height="1" fill="#fff" />
<rect x="345" y="374" width="1" height="10" fill="#fff" />
<rect x="335" y="384" width="214" height="1" fill="#fff" />
<rect x="337" y="361" width="7" height="8" fill="#fff" />
<rect x="339" y="361" width="3" height="3" fill="#000" />
<rect x="342" y="364" width="1" height="1" fill="#000" />
<rect x="345" y="361" width="1" height="10" fill="#fff" />
<rect x="531" y="361" width="9" height="8" fill="#fff" />
<rect x="535" y="361" width="4" height="3" fill="#000" />
<rect x="534" y="364" width="1" height="1" fill="#000" />
<rect x="337" y="374" width="7" height="8" fill="#fff" />
<rect x="339" y="374" width="3" height="3" fill="#000" />
<rect x="342" y="377" width="1" height="1" fill="#000" />
<rect x="345" y="374" width="1" height="10" fill="#fff" />
<rect x="531" y="374" width="9" height="8" fill="#fff" />
<rect x="535" y="374" width="4" height="3" fill="#000" />
<rect x="534" y="377" width="1" height="1" fill="#000" />
<path d="M348.00,366h1.1v3h-1.1zM350.20,366h1.1v3h-1.1zM359.00,366h1.1v3h-1.1zM361.20,366h1.1v3h-1.1zM363.40,366h1.1v3h-1.1zM365.60,366h1.1v3h-1.1zM367.80,366h1.1v3h-1.1zM374.00,366h1.1v3h-1.1zM376.20,366h1.1v3h-1.1zM378.40,366h1.1v3h-1.1zM380.60,366h1.1v3h-1.1zM382.80,366h1.1v3h-1.1zM389.00,366h1.1v3h-1.1zM391.20,366h1.1v3h-1.1zM393.40,366h1.1v3h-1.1zM395.60,366h1.1v3h-1.1zM397.80,366h1.1v3h-1.1zM406.00,366h1.1v3h-1.1zM408.20,366h1.1v3h-1.1zM410.40,366h1.1v3h-1.1zM463.00,366h1.1v3h-1.1zM470.00,366h1.1v3h-1.1zM472.20,366h1.1v3h-1.1zM474.40,366h1.1v3h-1.1zM476.60,366h1.1v3h-1.1zM478.80,366h1.1v3h-1.1zM485.00,366h1.1v3h-1.1zM487.20,366h1.1v3h-1.1zM489.40,366h1.1v3h-1.1zM491.60,366h1.1v3h-1.1zM493.80,366h1.1v3h-1.1zM502.00,366h1.1v3h-1.1zM504.20,366h1.1v3h-1.1zM506.40,366h1.1v3h-1.1zM516.50,366h1.1v3h-1.1zM518.70,366h1.1v3h-1.1zM520.90,366h1.1v3h-1.1zM523.10,366h1.1v3h-1.1zM528.50,366h1.1v3h-1.1zM348.00,380h1.1v3h-1.1zM350.20,380h1.1v3h-1.1zM359.00,380h1.1v3h-1.1zM361.20,380h1.1v3h-1.1zM363.40,380h1.1v3h-1.1zM365.60,380h1.1v3h-1.1zM367.80,380h1.1v3h-1.1zM374.00,380h1.1v3h-1.1zM376.20,380h1.1v3h-1.1zM378.40,380h1.1v3h-1.1zM380.60,380h1.1v3h-1.1zM382.80,380h1.1v3h-1.1zM389.00,380h1.1v3h-1.1zM391.20,380h1.1v3h-1.1zM393.40,380h1.1v3h-1.1zM395.60,380h1.1v3h-1.1zM397.80,380h1.1v3h-1.1zM406.00,380h1.1v3h-1.1zM408.20,380h1.1v3h-1.1zM410.40,380h1.1v3h-1.1zM463.00,380h1.1v3h-1.1zM470.00,380h1.1v3h-1.1zM472.20,380h1.1v3h-1.1zM474.40,380h1.1v3h-1.1zM476.60,380h1.1v3h-1.1zM478.80,380h1.1v3h-1.1zM485.00,380h1.1v3h-1.1zM487.20,380h1.1v3h-1.1zM489.40,380h1.1v3h-1.1zM491.60,380h1.1v3h-1.1zM493.80,380h1.1v3h-1.1zM502.00,380h1.1v3h-1.1zM504.20,380h1.1v3h-1.1zM506.40,380h1.1v3h-1.1zM516.50,380h1.1v3h-1.1zM518.70,380h1.1v3h-1.1zM520.90,380h1.1v3h-1.1zM523.10,380h1.1v3h-1.1zM528.50,380h1.1v3h-1.1zM418.50,380h1.1v3h-1.1zM420.70,380h1.1v3h-1.1zM422.90,380h1.1v3h-1.1zM425.10,380h1.1v3h-1.1zM427.30,380h1.1v3h-1.1zM432.50,380h1.1v3h-1.1zM444.00,380h1.1v3h-1.1zM446.20,380h1.1v3h-1.1zM454.50,380h1.1v3h-1.1zM456.70,380h1.1v3h-1.1zM458.90,380h1.1v3h-1.1zM461.10,380h1.1v3h-1.1z" fill="#fff"/>
<rect x="470.5" y="323" width="25" height="12" rx="2.5" fill="#000"/>
<rect x="472.5" y="325" width="21" height="9" fill="#fff" />
<text x="483.5" y="333.5" font-size="11.5" fill="#000" text-anchor="middle" letter-spacing="0" textLength="21.7" lengthAdjust="spacingAndGlyphs" >CN4</text>
<rect x="435" y="334" width="7" height="4.5" fill="#fff" />
<rect x="435" y="354" width="7" height="3.5" fill="#fff" />
<rect x="435" y="361" width="7" height="4.5" fill="#fff" />
<rect x="435" y="381" width="7" height="3.5" fill="#fff" />
<rect x="415.5" y="340.5" width="46" height="12" rx="2.5" fill="#000"/>
<rect x="417.5" y="341.5" width="42" height="9" rx="1" fill="#fff"/>
<text x="439" y="350.0" font-size="11.5" fill="#000" text-anchor="middle" letter-spacing="0" textLength="38.6" lengthAdjust="spacingAndGlyphs" >BANK 1</text>
<rect x="415.5" y="367" width="46" height="12" rx="2.5" fill="#000"/>
<rect x="417.5" y="368" width="42" height="9" rx="1" fill="#fff"/>
<text x="439" y="376.5" font-size="11.5" fill="#000" text-anchor="middle" letter-spacing="0" textLength="39.7" lengthAdjust="spacingAndGlyphs" >BANK 0</text>
<rect x="417" y="339.5" width="43" height="1.5" fill="#000" />
<rect x="553" y="302" width="20" height="90" fill="#000" />
<rect x="554" y="303" width="18" height="88" fill="#fff" />
<rect x="567" y="303" width="1" height="88" fill="#000" />
<rect x="555" y="308" width="6" height="6" fill="#000" />
<rect x="556" y="309" width="4" height="4" fill="#fff" />
<rect x="562" y="308" width="2" height="6" fill="#000" />
<circle cx="568" cy="311" r="2.2" fill="#000"/>
<rect x="555" y="315" width="6" height="6" fill="#000" />
<rect x="556" y="316" width="4" height="4" fill="#fff" />
<rect x="562" y="315" width="2" height="6" fill="#000" />
<circle cx="568" cy="318" r="2.2" fill="#000"/>
<rect x="555" y="322" width="6" height="6" fill="#000" />
<rect x="556" y="323" width="4" height="4" fill="#fff" />
<rect x="562" y="322" width="2" height="6" fill="#000" />
<circle cx="568" cy="325" r="2.2" fill="#000"/>
<rect x="555" y="330" width="6" height="6" fill="#000" />
<rect x="556" y="331" width="4" height="4" fill="#fff" />
<rect x="562" y="330" width="2" height="6" fill="#000" />
<circle cx="568" cy="333" r="2.2" fill="#000"/>
<rect x="555" y="337" width="6" height="6" fill="#000" />
<rect x="556" y="338" width="4" height="4" fill="#fff" />
<rect x="562" y="337" width="2" height="6" fill="#000" />
<circle cx="568" cy="340" r="2.2" fill="#000"/>
<rect x="555" y="344" width="6" height="6" fill="#000" />
<rect x="556" y="345" width="4" height="4" fill="#fff" />
<rect x="562" y="344" width="2" height="6" fill="#000" />
<circle cx="568" cy="347" r="2.2" fill="#000"/>
<rect x="555" y="352" width="6" height="6" fill="#000" />
<rect x="556" y="353" width="4" height="4" fill="#fff" />
<rect x="562" y="352" width="2" height="6" fill="#000" />
<circle cx="568" cy="355" r="2.2" fill="#000"/>
<rect x="555" y="359" width="6" height="6" fill="#000" />
<rect x="556" y="360" width="4" height="4" fill="#fff" />
<rect x="562" y="359" width="2" height="6" fill="#000" />
<circle cx="568" cy="362" r="2.2" fill="#000"/>
<rect x="555" y="367" width="6" height="6" fill="#000" />
<rect x="556" y="368" width="4" height="4" fill="#fff" />
<rect x="562" y="367" width="2" height="6" fill="#000" />
<circle cx="568" cy="370" r="2.2" fill="#000"/>
<rect x="555" y="374" width="6" height="6" fill="#000" />
<rect x="556" y="375" width="4" height="4" fill="#fff" />
<rect x="562" y="374" width="2" height="6" fill="#000" />
<circle cx="568" cy="377" r="2.2" fill="#000"/>
<rect x="555" y="382" width="6" height="6" fill="#000" />
<rect x="556" y="383" width="4" height="4" fill="#fff" />
<rect x="562" y="382" width="2" height="6" fill="#000" />
<circle cx="568" cy="385" r="2.2" fill="#000"/>
<rect x="556" y="303" width="1" height="2" fill="#000" />
<rect x="559" y="303" width="1" height="2" fill="#000" />
<rect x="580.5" y="304.5" width="30" height="31" fill="#fff" stroke="#000" stroke-width="1"/>
<rect x="606" y="304" width="5" height="32" fill="#000" />
<rect x="582.5" y="312" width="25" height="15" rx="2.5" fill="#000"/>
<rect x="584.5" y="314" width="21" height="11" rx="1" fill="#fff"/>
<text x="595.5" y="323.64" font-size="11.5" fill="#000" text-anchor="middle" letter-spacing="0" textLength="20" lengthAdjust="spacingAndGlyphs" >CN7</text>
<polygon points="609,346.5 611.5,346.5 611.5,388 609,388 609,386 606,386 606,382.3 587,382.3 587,377.6 585,377.6 585,357 587,357 587,351.7 606,351.7 606,349 609,349" fill="#000" stroke="none" stroke-width="1"/>
<rect x="582.5" y="359.5" width="3" height="5.5" fill="#fff" stroke="#000" stroke-width="1"/>
<rect x="582.5" y="368.5" width="3" height="5.5" fill="#fff" stroke="#000" stroke-width="1"/>
<rect x="585" y="365.5" width="1.5" height="2" fill="#fff" />
</svg>
</body></html>
